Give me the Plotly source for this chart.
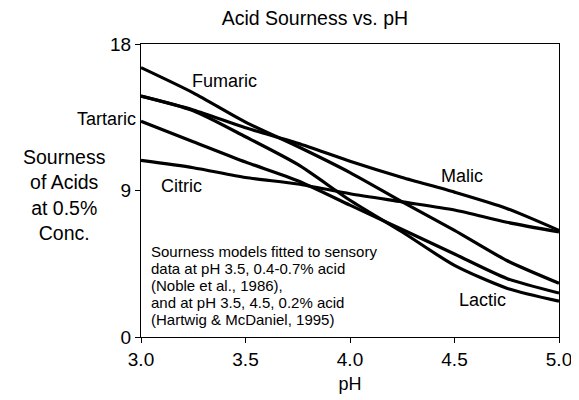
import plotly.graph_objects as go

ph = [3.0, 3.25, 3.5, 3.75, 4.0, 4.25, 4.5, 4.75, 5.0]
fumaric = [16.55, 15.0, 13.2, 11.7, 10.1, 8.3, 6.55, 4.7, 3.3]
malic = [14.8, 13.95, 12.85, 11.9, 10.8, 9.8, 8.9, 7.9, 6.55]
lactic = [14.8, 13.9, 12.3, 10.6, 8.4, 6.45, 4.4, 3.0, 2.2]
tartaric = [13.25, 12.0, 10.75, 9.6, 8.1, 6.6, 5.1, 3.6, 2.7]
citric = [10.85, 10.4, 9.8, 9.4, 8.8, 8.3, 7.8, 7.05, 6.45]

series = {"Fumaric": fumaric, "Malic": malic, "Lactic": lactic,
          "Tartaric": tartaric, "Citric": citric}

x_ticks = [3.0, 3.5, 4.0, 4.5, 5.0]
x_ticklabels = ["3.0", "3.5", "4.0", "4.5", "5.0"]
y_ticks = [0, 9, 18]

note_lines = ["Sourness models fitted to sensory",
              "data at pH 3.5, 0.4-0.7% acid",
              "(Noble et al., 1986),",
              "and at pH 3.5, 4.5, 0.2% acid",
              "(Hartwig & McDaniel, 1995)"]

FONT = "Liberation Sans, Arial, sans-serif"
OFF = 8  # default page body margin

fig = go.Figure()
for name, vals in series.items():
    fig.add_trace(go.Scatter(x=ph, y=vals, mode="lines", name=name,
                             line=dict(color="black", width=3.2, shape="spline", smoothing=0.7),
                             showlegend=False, hoverinfo="x+y+name"))

labels = [
    ("Fumaric", 3.40, 15.74, "center"),
    ("Citric", 3.195, 9.3, "center"),
    ("Malic", 4.538, 9.92, "center"),
    ("Lactic", 4.633, 2.27, "center"),
]
for txt, xx, yy, anc in labels:
    fig.add_annotation(x=xx, y=yy, text=txt, showarrow=False, xanchor=anc,
                       yanchor="middle", font=dict(size=18, color="black", family=FONT))

# Tartaric label sits left of the plot area
fig.add_annotation(xref="paper", yref="paper", x=-0.006, y=13.4 / 18, text="Tartaric",
                   showarrow=False, xanchor="right", yanchor="middle",
                   font=dict(size=18, color="black", family=FONT))

for i, line in enumerate(note_lines):
    py = 251 + 17 * i
    fig.add_annotation(x=3.037, y=(337 - py) / 16.28, text=line, showarrow=False,
                       xanchor="left", yanchor="middle", align="left",
                       font=dict(size=15, color="black", family=FONT))

fig.add_annotation(xref="paper", yref="paper", x=-0.182, y=0.486,
                   text="Sourness<br>of Acids<br>at 0.5%<br>Conc.", showarrow=False,
                   xanchor="center", yanchor="middle", align="center",
                   font=dict(size=19.5, color="black", family=FONT))

fig.update_layout(
    width=579, height=400,
    margin=dict(l=141 - OFF, r=20 + OFF, t=44 - OFF, b=63 + OFF),
    paper_bgcolor="white", plot_bgcolor="white",
    font=dict(family=FONT, color="black"),
    title=dict(text="Acid Sourness vs. pH", x=0.416, xref="paper", xanchor="center",
               y=1 - (18.5 - OFF) / 400, yanchor="middle",
               font=dict(size=19.5, color="black", family=FONT)),
    xaxis=dict(range=[3.0, 5.0], tickvals=x_ticks, ticktext=x_ticklabels,
               showgrid=False, zeroline=False, showline=True, linecolor="black",
               linewidth=1, mirror=True, ticks="outside", ticklen=5, tickcolor="black",
               tickfont=dict(size=19, family=FONT, color="black"),
               title=dict(text="pH", font=dict(size=18, family=FONT, color="black"), standoff=8)),
    yaxis=dict(range=[0, 18], tickvals=y_ticks, showgrid=False, zeroline=False,
               showline=True, linecolor="black", linewidth=1, mirror=True,
               ticks="outside", ticklen=5, tickcolor="black",
               tickfont=dict(size=19, family=FONT, color="black")),
)

fig.write_html("out.html")
